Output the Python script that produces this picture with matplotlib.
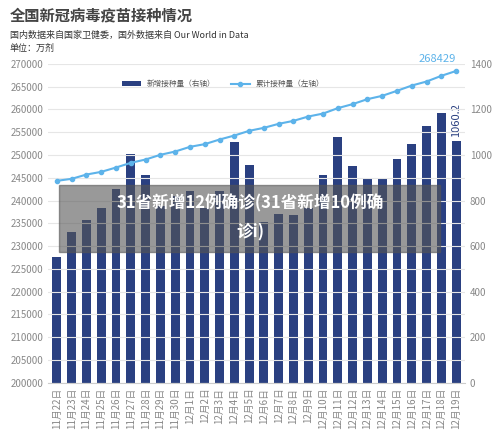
import matplotlib.pyplot as plt
from matplotlib.patches import Rectangle

plt.rcParams['font.family'] = ['Noto Sans CJK SC', 'DejaVu Sans']

dates = ['11月22日', '11月23日', '11月24日', '11月25日', '11月26日', '11月27日', '11月28日',
         '11月29日', '11月30日', '12月1日', '12月2日', '12月3日', '12月4日', '12月5日',
         '12月6日', '12月7日', '12月8日', '12月9日', '12月10日', '12月11日', '12月12日',
         '12月13日', '12月14日', '12月15日', '12月16日', '12月17日', '12月18日', '12月19日']
new_doses = [550, 660, 714, 768, 851, 1002, 910, 774, 818, 840, 768, 842, 1058, 957,
             705, 742, 737, 768, 910, 1080, 952, 895, 895, 981, 1047, 1125, 1183, 1060.2]
total_doses = [244320, 244760, 245700, 246290, 247240, 248270, 249000, 250030, 250750,
               251780, 252370, 253380, 254260, 255290, 255950, 256830, 257480, 258430,
               259080, 260270, 261150, 262240, 262970, 264070, 265230, 266110, 267360, 268429]

bar_c = '#2a4081'
line_c = '#5db3ea'
grey = '#888888'

fig = plt.figure(figsize=(5, 4.37), dpi=100)
ax = fig.add_axes([0.096, 0.124, 0.834, 0.73])
ax2 = ax.twinx()
x = range(len(dates))

# bars on the right axis, line on the left axis
ax2.bar(x, new_doses, width=0.6, color=bar_c, label='新增接种量（右轴）')
ax.plot(x, total_doses, color=line_c, marker='o', markersize=3, lw=1.5, label='累计接种量（左轴）')
ax.set_zorder(ax2.get_zorder() + 1)
ax.patch.set_visible(False)

ax.set_ylim(200000, 270000)
ax.set_yticks(range(200000, 270001, 5000))
ax2.set_ylim(0, 1400)
ax2.set_yticks(range(0, 1401, 200))
ax.set_xlim(-0.6, len(dates) - 0.4)
ax.set_xticks(list(x))
ax.set_xticklabels(dates, rotation=90, fontsize=7, color=grey)
ax.tick_params(axis='y', labelsize=7, colors=grey, length=0)
ax2.tick_params(axis='y', labelsize=7, colors=grey, length=0)
ax.tick_params(axis='x', length=0)
ax.grid(axis='y', color='#e6e6e6', lw=0.8)
for a in (ax, ax2):
    for s in a.spines.values():
        s.set_visible(False)
ax.spines['bottom'].set_visible(True)
ax.spines['bottom'].set_color('#cccccc')

ax.annotate(f'{total_doses[-1]}', (x[-1], total_doses[-1]), xytext=(0, 5),
            textcoords='offset points', ha='right', va='bottom', color=line_c, fontsize=8)
ax2.annotate(f'{new_doses[-1]}', (x[-1], new_doses[-1]), xytext=(0, 3),
             textcoords='offset points', ha='center', va='bottom', color=bar_c,
             fontsize=8, rotation=90)

h1, l1 = ax2.get_legend_handles_labels()
h2, l2 = ax.get_legend_handles_labels()
ax.legend(h1 + h2, l1 + l2, loc='upper center', bbox_to_anchor=(0.42, 0.97), ncol=2,
          frameon=False, fontsize=5.5, labelcolor='#555555', handlelength=2.5)

fig.text(0.02, 0.965, '全国新冠病毒疫苗接种情况', fontsize=11, fontweight='bold', color='#444444', va='center')
fig.text(0.02, 0.918, '国内数据来自国家卫健委，国外数据来自 Our World in Data', fontsize=6.5, color='#333333', va='center')
fig.text(0.02, 0.89, '单位：万剂', fontsize=6.5, color='#333333', va='center')

# grey caption overlay
fig.patches.append(Rectangle((59 / 500, 1 - 252 / 437), 381 / 500, 67 / 437,
                             transform=fig.transFigure, color='#555555', alpha=0.6, zorder=5))
fig.text(0.5, 1 - 203 / 437, '31省新增12例确诊(31省新增10例确', fontsize=12, fontweight='bold',
         color='white', ha='center', va='center', zorder=6)
fig.text(0.5, 1 - 232 / 437, '诊i)', fontsize=12, fontweight='bold',
         color='white', ha='center', va='center', zorder=6)

fig.savefig('out.png', dpi=100)
